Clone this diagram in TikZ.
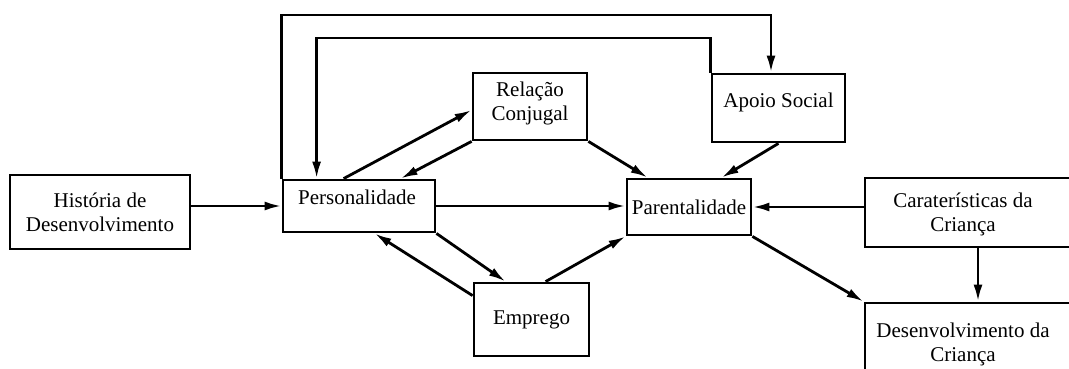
\documentclass[tikz,border=0pt]{standalone}
\usepackage{fontspec}
\setmainfont{Liberation Serif}
\usetikzlibrary{arrows.meta,calc}
\begin{document}
\begin{tikzpicture}[x=1pt,y=-1pt,
  box/.style={draw,line width=2.8pt,inner sep=0pt,align=center,
    font=\fontsize{21}{24}\selectfont},
  txt/.style={inner sep=0pt,align=center,font=\fontsize{21}{24}\selectfont},
  arr/.style={line width=2.8pt,-{Latex[length=17pt,width=9pt]}}]
\useasboundingbox (0,0) rectangle (1069,369);
\clip (0,0) rectangle (1069,369);
\fill[white] (0,0) rectangle (1069,369);
% boxes
\node[box,minimum width=180pt,minimum height=74pt] (hist) at (100,212) {História de\\Desenvolvimento};
\node[box,minimum width=152pt,minimum height=52pt] (pers) at (359,206) {};
\node[txt] (perstxt) at (357,197) {Personalidade};
\node[box,minimum width=114pt,minimum height=67pt] (rel) at (530,106.5) {};
\node[txt] (reltxt) at (530,103) {Relação\\Conjugal};
\node[box,minimum width=133pt,minimum height=68pt] (apoio) at (778.5,108) {};
\node[txt] (apoiotxt) at (778.5,102) {Apoio Social};
\node[box,minimum width=124pt,minimum height=56pt] (parent) at (689,207) {Parentalidade};
\node[box,minimum width=115pt,minimum height=73pt] (emp) at (531.5,319.5) {Emprego};
\node[box,minimum width=210pt,minimum height=69pt] (car) at (970,212.5) {};
\node[txt] (cartxt) at (963,214) {Caraterísticas da\\Criança};
\node[box,minimum width=210pt,minimum height=87pt] (des) at (970,346.5) {};
\node[txt] (destxt) at (963,344) {Desenvolvimento da\\Criança};
\coordinate (top1) at (0,15);
\coordinate (top2) at (0,38);
% connectors
\draw[arr] (hist.east |- pers.west) -- (pers.west);
\draw[arr] (pers.east) -- (pers.east -| parent.west);
\draw[arr] (car.west |- parent.east) -- (parent.east);
\draw[arr] ([xshift=8pt]car.south) -- ([xshift=8pt]car.south |- des.north);
\draw[arr] ([xshift=62pt]pers.north west) -- ([yshift=-3.5pt]rel.west);
\draw[arr] (rel.south west) -- ([xshift=119pt]pers.north west);
\draw[arr] (rel.south east) -- ([xshift=22pt]parent.north west);
\draw[arr] (apoio.south) -- ([xshift=96pt]parent.north west);
\draw[arr] (pers.south east) -- ([xshift=33pt]emp.north west);
\draw[arr] ([yshift=-14pt]emp.north west) -- ([xshift=93pt]pers.south west);
\draw[arr] ([xshift=73pt]emp.north west) -- (parent.south west);
\draw[arr] (parent.south east) -- (des.north west);
\draw[arr] (pers.north west) -- (pers.north west |- top1) -| ([xshift=-7.5pt]apoio.north);
\draw[arr] (apoio.north west) -- (apoio.north west |- top2) -| ([xshift=35pt]pers.north west);
\end{tikzpicture}
\end{document}
